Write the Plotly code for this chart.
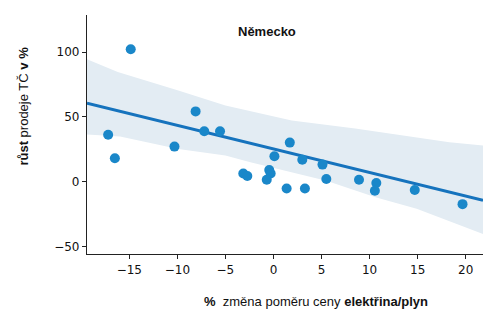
import plotly.graph_objects as go

# scatter data
x_change = [-14.85, -17.2, -16.5, -10.3, -8.1, -7.2, -5.56, -3.14, -2.72,
            0.1, 1.7, 3.0, 5.1, -0.44, -0.29, -0.7, 1.37, 3.27, 5.5,
            8.9, 10.7, 10.55, 14.7, 19.67]
y_growth = [102.3, 36.2, 18.1, 27.1, 54.3, 39.0, 39.0, 6.4, 4.4,
            19.6, 30.2, 17.0, 13.2, 9.1, 6.4, 1.5, -5.2, -5.2, 2.1,
            1.5, -1.0, -7.0, -6.4, -17.3]

# regression line
fit_x = [-19.4, 21.8]
fit_y = [60.7, -14.3]

# confidence band
band_up_x = [-19.4, -16.2, -9.9, -5.0, 1.9, 8.5, 18.3, 21.8]
band_up_y = [94.6, 84.7, 70.5, 58.9, 47.3, 41.1, 30.5, 27.9]
band_lo_x = [-19.4, -15.96, -9.9, -5.0, -2.4, 5.5, 10.7, 14.9, 21.8]
band_lo_y = [36.4, 34.9, 25.3, 20.2, 15.0, 0.8, -12.2, -20.9, -40.3]

x_ticks = [-15, -10, -5, 0, 5, 10, 15, 20]
y_ticks = [-50, 0, 50, 100]

def mlabel(v):
    return ("\u2212" + str(abs(v))) if v < 0 else str(v)

fig = go.Figure()
fig.add_trace(go.Scatter(
    x=band_up_x + band_lo_x[::-1], y=band_up_y + band_lo_y[::-1],
    fill="toself", fillcolor="#e3ecf3", line=dict(width=0),
    mode="lines", hoverinfo="skip", showlegend=False))
fig.add_trace(go.Scatter(
    x=fit_x, y=fit_y, mode="lines",
    line=dict(color="#1673bd", width=3), showlegend=False))
fig.add_trace(go.Scatter(
    x=x_change, y=y_growth, mode="markers",
    marker=dict(color="#1a87c9", size=10, line=dict(width=0)),
    showlegend=False))

axis_common = dict(showgrid=False, zeroline=False, showline=True,
                   linecolor="#222", linewidth=1.2, ticks="outside",
                   ticklen=4, tickwidth=1.2, tickcolor="#222",
                   tickfont=dict(family="DejaVu Sans", size=12, color="#111"))
fig.update_xaxes(range=[-19.4, 21.8], tickvals=x_ticks,
                 ticktext=[mlabel(v) for v in x_ticks], **axis_common)
fig.update_yaxes(range=[-55.8, 128.7], tickvals=y_ticks,
                 ticktext=[mlabel(v) for v in y_ticks], **axis_common)

lab_font = dict(family="Liberation Sans, Arial", size=13, color="#111")
fig.update_layout(
    width=500, height=325,
    margin=dict(l=87, r=17, t=15, b=71),
    plot_bgcolor="white", paper_bgcolor="white",
    annotations=[
        dict(text="<b>Německo</b>", xref="paper", yref="paper",
             x=0.4545, y=0.933, showarrow=False, font=lab_font,
             xanchor="center", yanchor="middle"),
        dict(text="<b>%</b>  změna poměru ceny <b>elektřina/plyn</b>",
             xref="paper", yref="paper", x=0.578, y=-0.2,
             showarrow=False, font=lab_font,
             xanchor="center", yanchor="middle"),
        dict(text="<b>růst</b> prodeje TČ <b>v %</b>",
             xref="paper", yref="paper", x=-0.159, y=0.617,
             showarrow=False, font=lab_font, textangle=-90,
             xanchor="center", yanchor="middle"),
    ],
)
fig.write_html("out.html")
